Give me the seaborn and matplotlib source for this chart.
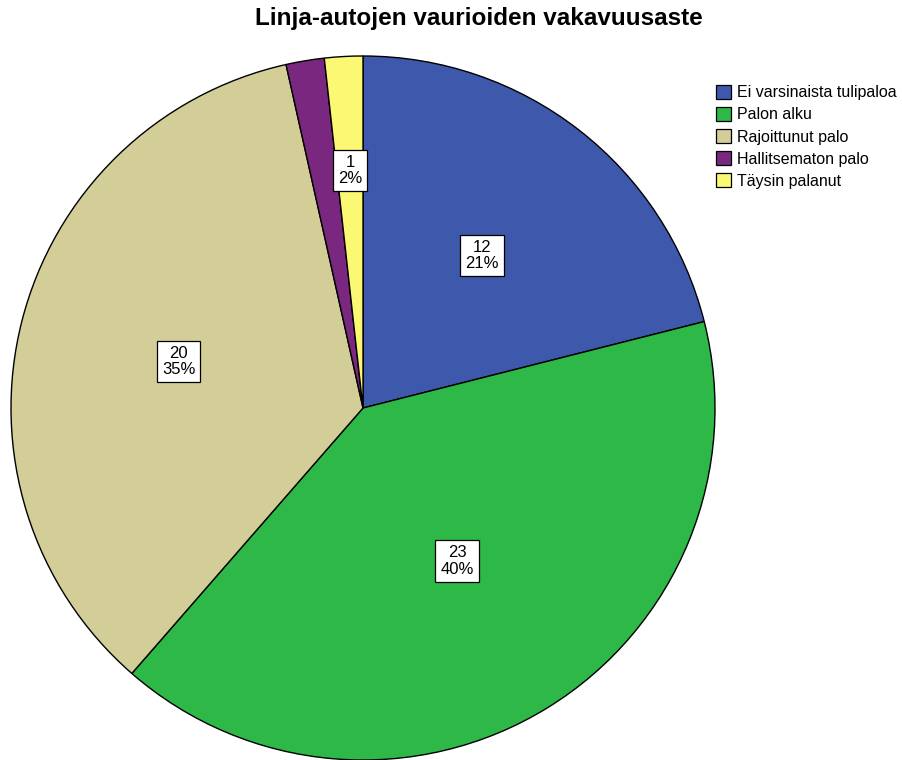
import numpy as np
import matplotlib
matplotlib.use("Agg")
import matplotlib.pyplot as plt
import seaborn as sns
from matplotlib.patches import Patch

categories = ["Ei varsinaista tulipaloa", "Palon alku", "Rajoittunut palo",
              "Hallitsematon palo", "Täysin palanut"]
counts = [12, 23, 20, 1, 1]
colors = ["#3E58AC", "#2EB848", "#D3CE97", "#79277F", "#FBF873"]
show_label = [True, True, True, False, True]
label_radius = [0.55, 0.51, 0.54, 0.6, 0.675]

sns.set_theme(style="white")
plt.rcParams['font.family'] = ['Liberation Sans', 'DejaVu Sans']
plt.rcParams['text.color'] = 'black'

fig = plt.figure(figsize=(9.02, 7.6), dpi=100)
W, H = 902, 760
cx, cy, R = 363, 408, 352
ax = fig.add_axes([(cx - R) / W, (H - cy - R) / H, 2 * R / W, 2 * R / H])

wedges, _ = ax.pie(counts, colors=colors, startangle=90, counterclock=False,
                   radius=1, wedgeprops=dict(edgecolor='black', linewidth=1.0))
for w in wedges:
    w.set_clip_on(False)
ax.set_xlim(-1, 1)
ax.set_ylim(-1, 1)
ax.set_aspect('equal')
ax.axis('off')

total = sum(counts)
cum = 0
for i, c in enumerate(counts):
    mid = (cum + c / 2) / total * 2 * np.pi
    cum += c
    if not show_label[i]:
        continue
    r = label_radius[i]
    x = r * np.sin(mid)
    y = r * np.cos(mid)
    pct = round(100 * c / total)
    ax.text(x, y, f"{c}\n{pct}%", ha='center', va='center', fontsize=12,
            linespacing=1.1, color='black',
            bbox=dict(boxstyle='square,pad=0.3', facecolor='white',
                      edgecolor='black', linewidth=0.9))

fig.text(479 / W, 1 - 18 / H, "Linja-autojen vaurioiden vakavuusaste",
         ha='center', va='center', fontsize=17.5, fontweight='bold', color='black')

handles = [Patch(facecolor=col, edgecolor='black', linewidth=0.9, label=cat)
           for col, cat in zip(colors, categories)]
leg = fig.legend(handles=handles, loc='upper left', bbox_to_anchor=(716 / W, 1 - 85 / H),
                 frameon=False, fontsize=11.5, handlelength=0.95, handleheight=0.95,
                 handletextpad=0.35, labelspacing=0.42, borderaxespad=0, borderpad=0)
for t in leg.get_texts():
    t.set_color('black')

fig.savefig("out.png", dpi=100)
